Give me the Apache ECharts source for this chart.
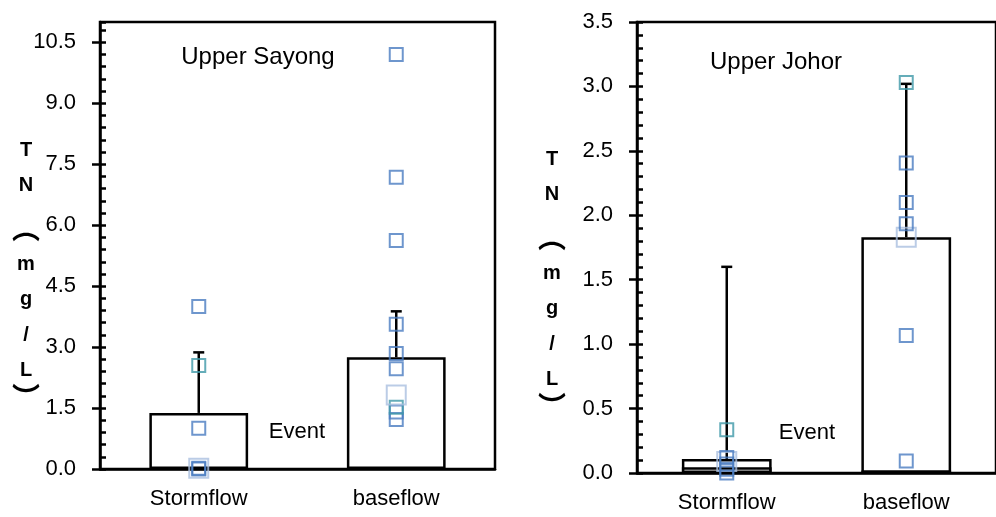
<!DOCTYPE html>
<html>
<head>
<meta charset="utf-8">
<script src="https://cdn.jsdelivr.net/npm/echarts@6/dist/echarts.min.js"></script>
<style>
  html, body { margin: 0; padding: 0; background: #fff; }
  #chart { width: 996px; height: 517px; }
</style>
</head>
<body>
<div id="chart"></div>
<script>
var categories = ['Stormflow', 'baseflow'];
var yNameChars = ['T', 'N', '︵', 'm', 'g', '/', 'L', '︶'];

// Upper Sayong (left panel)
var sayongRange = [0, 11];
var sayongTicks = [0, 1.5, 3.0, 4.5, 6.0, 7.5, 9.0, 10.5];
var sayongMinorStep = 0.3;
var sayongMean = [1.38, 2.75];
var sayongErrTop = [2.87, 3.88];
var sayongStormBlue = [4.0, 1.0, 0.02, 0.0];
var sayongStormTeal = [2.55];
var sayongStormLight = [0.02];
var sayongBaseBlue = [10.2, 7.18, 5.62, 3.56, 2.84, 2.47, 1.4, 1.22];
var sayongBaseTeal = [1.52];
var sayongBaseLight = [1.82];

// Upper Johor (right panel)
var johorRange = [0, 3.5];
var johorTicks = [0, 0.5, 1.0, 1.5, 2.0, 2.5, 3.0, 3.5];
var johorMinorStep = 0.1;
var johorMean = [0.108, 1.83];
var johorInner = [0.045, 0.02];
var johorErrTop = [1.6, 3.02];
var johorStormBlue = [0.12, 0.07, 0.03, 0.0];
var johorStormTeal = [0.336];
var johorStormLight = [0.09];
var johorBaseBlue = [2.405, 2.1, 1.935, 1.067, 0.093];
var johorBaseTeal = [3.03];
var johorBaseLight = [1.83];

var FONT = "'Liberation Sans', Arial, sans-serif";
var CJK = "'Noto Sans CJK SC', sans-serif";
var BLUE = '#4a7cc0', TEAL = '#3f98a8', LIGHT = '#aabfe0';

// vertical stacking of the y axis name letters (offset from the first letter)
var nameOffsets = [0, 35, 78, 114, 149, 185, 220, 247];

function pairs(storm, base) {
    return storm.map(function (v) { return [0, v]; })
        .concat(base.map(function (v) { return [1, v]; }));
}

function renderErr(params, api) {
    var low = api.coord([api.value(0), api.value(1)]);
    var high = api.coord([api.value(0), api.value(2)]);
    return {
        type: 'group',
        children: [
            { type: 'line', shape: { x1: low[0], y1: low[1], x2: high[0], y2: high[1] },
              style: { stroke: '#000', lineWidth: 2.5 } },
            { type: 'line', shape: { x1: high[0] - 5.5, y1: high[1], x2: high[0] + 5.5, y2: high[1] },
              style: { stroke: '#000', lineWidth: 2.5 } }
        ]
    };
}

function yNameGraphic(x, y0) {
    return yNameChars.map(function (c, i) {
        var paren = c === '︵' || c === '︶';
        return {
            type: 'text', x: x, y: y0 + nameOffsets[i],
            style: {
                text: c, fill: '#000', textAlign: 'center', textVerticalAlign: 'middle',
                font: paren ? 'bold 28px ' + CJK : 'bold 20px ' + FONT
            }
        };
    });
}

function xAxisFor(grid) {
    return {
        type: 'category', gridIndex: grid, data: categories,
        axisLine: { lineStyle: { color: '#000', width: 2.5 } },
        axisTick: { length: 8, lineStyle: { color: '#000', width: 2.5 } },
        axisLabel: { color: '#000', fontSize: 22, fontFamily: FONT, margin: 19 }
    };
}

function yAxesFor(grid, range, ticks, minorStep) {
    return [{
        type: 'value', gridIndex: grid, min: range[0], max: range[1],
        axisLine: { show: true, lineStyle: { color: '#000', width: 2.5 } },
        axisTick: { show: true, length: 8, customValues: ticks, lineStyle: { color: '#000', width: 2.5 } },
        axisLabel: { color: '#000', fontSize: 22, fontFamily: FONT, margin: 24, customValues: ticks,
            formatter: function (v) { return v.toFixed(1); } },
        splitLine: { show: false }
    }, {
        type: 'value', gridIndex: grid, min: range[0], max: range[1], interval: minorStep,
        position: 'left',
        axisLine: { show: false },
        axisTick: { show: true, inside: true, length: 6, lineStyle: { color: '#000', width: 2.5 } },
        axisLabel: { show: false },
        splitLine: { show: false }
    }];
}

function scatter(name, x, y, data, color, size, z) {
    return {
        name: name, type: 'scatter', xAxisIndex: x, yAxisIndex: y, data: data,
        symbol: 'rect', symbolSize: size, z: z,
        itemStyle: { color: 'rgba(0,0,0,0)', borderColor: color, borderWidth: 2 }
    };
}

var barStyle = { color: '#fff', borderColor: '#000', borderWidth: 2.5 };

var option = {
    animation: false,
    grid: [
        { left: 100, top: 22, width: 395, height: 447, show: true, borderColor: '#000', borderWidth: 2.5 },
        { left: 637, top: 22, width: 369, height: 451, show: true, borderColor: '#000', borderWidth: 2.5 }
    ],
    xAxis: [xAxisFor(0), xAxisFor(1)],
    yAxis: yAxesFor(0, sayongRange, sayongTicks, sayongMinorStep)
        .concat(yAxesFor(1, johorRange, johorTicks, johorMinorStep)),
    graphic: [
        { type: 'text', x: 258, y: 57, style: { text: 'Upper Sayong', fill: '#000', font: '24px ' + FONT, textAlign: 'center', textVerticalAlign: 'middle' } },
        { type: 'text', x: 776, y: 62, style: { text: 'Upper Johor', fill: '#000', font: '24px ' + FONT, textAlign: 'center', textVerticalAlign: 'middle' } },
        { type: 'text', x: 297, y: 432, style: { text: 'Event', fill: '#000', font: '22px ' + FONT, textAlign: 'center', textVerticalAlign: 'middle' } },
        { type: 'text', x: 807, y: 433, style: { text: 'Event', fill: '#000', font: '22px ' + FONT, textAlign: 'center', textVerticalAlign: 'middle' } }
    ].concat(yNameGraphic(26, 150), yNameGraphic(552, 159)),
    series: [
        { name: 'Sayong mean', type: 'bar', xAxisIndex: 0, yAxisIndex: 0, data: sayongMean,
          barWidth: '50%', itemStyle: barStyle, z: 2 },
        { name: 'Sayong error', type: 'custom', xAxisIndex: 0, yAxisIndex: 0, renderItem: renderErr, z: 3,
          data: sayongMean.map(function (v, i) { return [i, v, sayongErrTop[i]]; }) },
        scatter('Sayong blue', 0, 0, pairs(sayongStormBlue, sayongBaseBlue), BLUE, 13, 4),
        scatter('Sayong teal', 0, 0, pairs(sayongStormTeal, sayongBaseTeal), TEAL, 13, 4),
        scatter('Sayong light', 0, 0, pairs(sayongStormLight, sayongBaseLight), LIGHT, 19, 5),

        { name: 'Johor mean', type: 'bar', xAxisIndex: 1, yAxisIndex: 2, data: johorMean,
          barWidth: '50%', barGap: '-100%', itemStyle: barStyle, z: 2 },
        { name: 'Johor inner', type: 'bar', xAxisIndex: 1, yAxisIndex: 2, data: johorInner,
          barWidth: '50%', barGap: '-100%', itemStyle: barStyle, z: 2 },
        { name: 'Johor error', type: 'custom', xAxisIndex: 1, yAxisIndex: 2, renderItem: renderErr, z: 3,
          data: johorMean.map(function (v, i) { return [i, v, johorErrTop[i]]; }) },
        scatter('Johor light', 1, 2, pairs(johorStormLight, johorBaseLight), LIGHT, 19, 4),
        scatter('Johor blue', 1, 2, pairs(johorStormBlue, johorBaseBlue), BLUE, 13, 5),
        scatter('Johor teal', 1, 2, pairs(johorStormTeal, johorBaseTeal), TEAL, 13, 5)
    ]
};

var chart = echarts.init(document.getElementById('chart'));
chart.setOption(option);
</script>
</body>
</html>
